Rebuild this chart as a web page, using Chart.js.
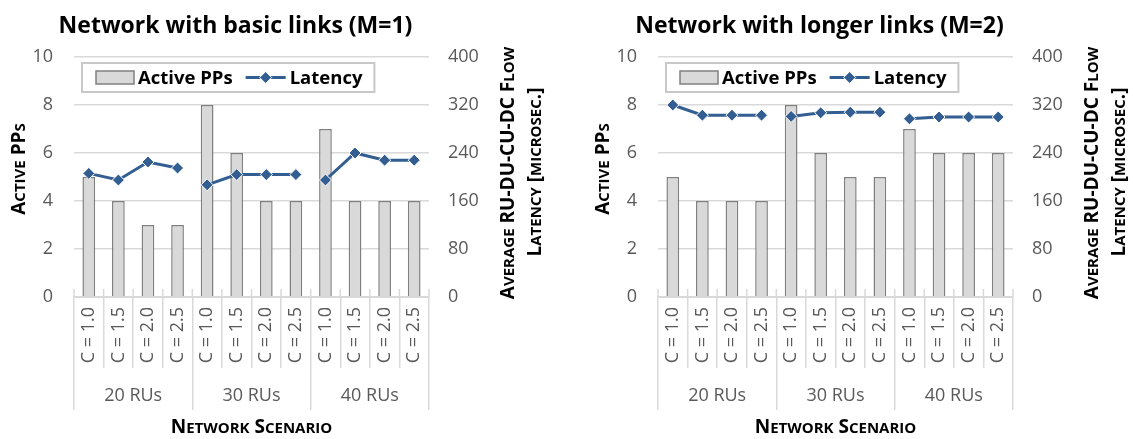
<!DOCTYPE html>
<html>
<head>
<meta charset="utf-8">
<script src="https://cdn.jsdelivr.net/npm/chart.js@4.4.1/dist/chart.umd.min.js"></script>
<style>
  html, body { margin: 0; padding: 0; background: #ffffff; }
  #wrap { position: relative; width: 1133px; height: 439px; overflow: hidden; }
  .panel { position: absolute; top: 0; height: 439px; }
  #p1 { left: 0; width: 584px; }
  #p2 { left: 584px; width: 549px; }
  canvas { display: block; }
</style>
</head>
<body>
<div id="wrap">
  <div class="panel" id="p1"><canvas id="c1" width="584" height="439"></canvas></div>
  <div class="panel" id="p2"><canvas id="c2" width="549" height="439"></canvas></div>
</div>
<script>
// Scenario categories: RU count groups and C values inside each group
const ruGroups = ['20 RUs', '30 RUs', '40 RUs'];
const cValues = ['C = 1.0', 'C = 1.5', 'C = 2.0', 'C = 2.5'];

// Basic links (M=1)
const activeM1 = [5, 4, 3, 3, 8, 6, 4, 4, 7, 4, 4, 4];
const latencyM1 = [206, 195, 225, 215, 187, 204, 204, 204, 195, 240, 228, 228];

// Longer links (M=2)
const activeM2 = [5, 4, 4, 4, 8, 6, 5, 5, 7, 6, 6, 6];
const latencyM2 = [320, 303, 303, 303, 301, 307, 308, 308, 297, 300, 300, 300];

// Labelled tick values on the two value axes
const ppTicks = [0, 2, 4, 6, 8, 10];
const latencyTicks = [0, 80, 160, 240, 320, 400];

const titles = ['Network with basic links (M=1)', 'Network with longer links (M=2)'];
const leftAxisTitle = 'Active PPs';
const rightAxisTitle = ['Average RU-DU-CU-DC Flow', 'Latency [microsec.]'];
const xAxisTitle = 'Network Scenario';

const FONT = '"Open Sans", "Noto Sans", sans-serif';
const GRID = '#d9d9d9';
const TEXT_GRAY = '#595959';
const BAR_FILL = '#d9d9d9';
const BAR_EDGE = '#808080';
const BLUE = '#335e92';

Chart.defaults.font.family = FONT;

// Category labels: every C value repeated for each RU group
const categories = ruGroups.flatMap(() => cValues);
const groupSize = cValues.length;

// Draws text with capitals at full size and lowercase letters as smaller capitals,
// centred on (x, y) and rotated by angle.
function drawSmallCaps(ctx, text, x, y, size, angle, color) {
  const small = Math.round(size * 0.8);
  const runs = [];
  for (const ch of text) {
    const isLower = ch !== ch.toUpperCase();
    const s = isLower ? small : size;
    const c = isLower ? ch.toUpperCase() : ch;
    const last = runs[runs.length - 1];
    if (last && last.size === s) last.text += c; else runs.push({ text: c, size: s });
  }
  let total = 0;
  for (const r of runs) {
    ctx.font = 'bold ' + r.size + 'px ' + FONT;
    r.w = ctx.measureText(r.text).width;
    total += r.w;
  }
  ctx.save();
  ctx.translate(x, y);
  ctx.rotate(angle);
  ctx.fillStyle = color;
  ctx.textBaseline = 'alphabetic';
  ctx.textAlign = 'left';
  let cx = -total / 2;
  const base = size * 0.714 / 2;
  for (const r of runs) {
    ctx.font = 'bold ' + r.size + 'px ' + FONT;
    ctx.fillText(r.text, cx, base);
    cx += r.w;
  }
  ctx.restore();
}

function drawDiamond(ctx, x, y, r, fill) {
  ctx.beginPath();
  ctx.moveTo(x, y - r);
  ctx.lineTo(x + r, y);
  ctx.lineTo(x, y + r);
  ctx.lineTo(x - r, y);
  ctx.closePath();
  ctx.fillStyle = fill;
  ctx.fill();
  ctx.lineWidth = 1;
  ctx.strokeStyle = '#ffffff';
  ctx.stroke();
}

// Chart furniture: title, framed legend, axis titles, short ticks above the category axis
const decorPlugin = {
  id: 'decor',
  afterDraw(chart, args, opts) {
    const ctx = chart.ctx;
    const ca = chart.chartArea;
    const xs = chart.scales.x;
    const midX = (ca.left + ca.right) / 2;
    const midY = (ca.top + ca.bottom) / 2;

    // chart title
    ctx.save();
    ctx.font = 'bold 23px ' + FONT;
    ctx.fillStyle = '#000000';
    ctx.textAlign = 'center';
    ctx.textBaseline = 'alphabetic';
    ctx.fillText(opts.title, midX - 16, 33);
    ctx.restore();

    // short marks above the axis at each category boundary
    const n = chart.data.labels.length;
    const step = (xs.right - xs.left) / n;
    ctx.save();
    ctx.strokeStyle = GRID;
    ctx.lineWidth = 1.5;
    for (let i = 0; i <= n; i++) {
      const px = xs.left + i * step;
      ctx.beginPath();
      ctx.moveTo(px, ca.bottom - 8);
      ctx.lineTo(px, ca.bottom);
      ctx.stroke();
    }
    ctx.restore();

    // legend in a white frame inside the plot area
    const bars = chart.data.datasets[0];
    const line = chart.data.datasets[1];
    ctx.save();
    ctx.font = 'bold 18.5px ' + FONT;
    const w1 = ctx.measureText(bars.label).width;
    const w2 = ctx.measureText(line.label).width;
    const pad = 14, sw = 38, gap = 4, sep = 13, lw = 40;
    const bx = ca.left + 8, by = 63, bh = 29;
    const bw = pad + sw + gap + w1 + sep + lw + gap + w2 + pad - 2;
    ctx.fillStyle = '#ffffff';
    ctx.fillRect(bx, by, bw, bh);
    ctx.strokeStyle = '#c8c8c8';
    ctx.lineWidth = 2;
    ctx.strokeRect(bx, by, bw, bh);
    const cy = by + bh / 2;
    let x = bx + pad;
    ctx.fillStyle = bars.backgroundColor;
    ctx.fillRect(x, cy - 6.5, sw, 13);
    ctx.strokeStyle = bars.borderColor;
    ctx.lineWidth = 1.5;
    ctx.strokeRect(x, cy - 6.5, sw, 13);
    x += sw + gap;
    ctx.fillStyle = '#000000';
    ctx.textBaseline = 'middle';
    ctx.textAlign = 'left';
    ctx.fillText(bars.label, x, cy + 1);
    x += w1 + sep;
    ctx.strokeStyle = line.borderColor;
    ctx.lineWidth = 3;
    ctx.beginPath();
    ctx.moveTo(x, cy);
    ctx.lineTo(x + lw, cy);
    ctx.stroke();
    drawDiamond(ctx, x + lw / 2, cy, 6, line.pointBackgroundColor);
    x += lw + gap;
    ctx.fillStyle = '#000000';
    ctx.fillText(line.label, x, cy + 1);
    ctx.restore();

    // axis titles
    drawSmallCaps(ctx, leftAxisTitle, ca.left - 56, midY - 8, 19, -Math.PI / 2, '#000000');
    drawSmallCaps(ctx, rightAxisTitle[0], ca.right + 78, midY - 4, 19, -Math.PI / 2, '#000000');
    drawSmallCaps(ctx, rightAxisTitle[1], ca.right + 105, midY - 5, 19, -Math.PI / 2, '#000000');
    drawSmallCaps(ctx, xAxisTitle, midX, chart.height - 13, 19, 0, '#000000');
  }
};

function makeChart(canvasId, title, active, latency) {
  const canvas = document.getElementById(canvasId);
  const W = canvas.width;
  return new Chart(canvas, {
    type: 'bar',
    data: {
      labels: categories,
      datasets: [
        {
          type: 'bar',
          label: 'Active PPs',
          data: active,
          xAxisID: 'x',
          yAxisID: 'y',
          backgroundColor: BAR_FILL,
          borderColor: BAR_EDGE,
          borderWidth: 1.5,
          barPercentage: 0.43,
          categoryPercentage: 1,
          order: 2
        },
        {
          type: 'line',
          label: 'Latency',
          data: latency,
          xAxisID: 'x',
          yAxisID: 'y1',
          borderColor: BLUE,
          borderWidth: 3,
          pointStyle: 'rectRot',
          pointRadius: 6,
          pointBackgroundColor: BLUE,
          pointBorderColor: '#ffffff',
          pointBorderWidth: 1,
          tension: 0,
          order: 1,
          segment: {
            // no connecting segment between RU groups
            borderColor: c => ((c.p0DataIndex + 1) % groupSize === 0) ? 'rgba(0,0,0,0)' : BLUE
          }
        }
      ]
    },
    options: {
      responsive: false,
      animation: false,
      devicePixelRatio: 1,
      layout: { padding: { top: 57, bottom: 29, left: 0, right: 0 } },
      plugins: {
        legend: { display: false },
        tooltip: { enabled: false },
        title: { display: false },
        decor: { title: title }
      },
      scales: {
        x: {
          type: 'category',
          position: 'bottom',
          offset: true,
          grid: { offset: true, drawOnChartArea: false, drawTicks: true, tickLength: 71, color: GRID, lineWidth: 1.5 },
          border: { display: true, color: GRID, width: 2 },
          ticks: { minRotation: 90, maxRotation: 90, autoSkip: false, padding: -61, color: TEXT_GRAY, font: { size: 18 } },
          afterFit: s => { s.height = 71; }
        },
        x2: {
          type: 'category',
          position: 'bottom',
          labels: ruGroups,
          offset: true,
          grid: { offset: true, drawOnChartArea: false, drawTicks: true, tickLength: 42, color: GRID, lineWidth: 1.5 },
          border: { display: false },
          ticks: { maxRotation: 0, autoSkip: false, padding: -25, color: TEXT_GRAY, font: { size: 18 } },
          afterFit: s => { s.height = 42; }
        },
        y: {
          position: 'left',
          min: 0,
          max: 10,
          grid: { color: GRID, lineWidth: 1.5, drawTicks: false },
          border: { display: false },
          ticks: {
            stepSize: 1,
            padding: 21,
            color: TEXT_GRAY,
            font: { size: 18 },
            callback: v => ppTicks.includes(v) ? String(v) : ''
          },
          afterFit: s => { s.width = 74; }
        },
        y1: {
          position: 'right',
          min: 0,
          max: 400,
          grid: { drawOnChartArea: false, drawTicks: false },
          border: { display: false },
          ticks: {
            stepSize: 80,
            padding: 19,
            color: TEXT_GRAY,
            font: { size: 18 },
            callback: v => latencyTicks.includes(v) ? String(v) : ''
          },
          afterFit: s => { s.width = W - 429; }
        }
      }
    },
    plugins: [decorPlugin]
  });
}

makeChart('c1', titles[0], activeM1, latencyM1);
makeChart('c2', titles[1], activeM2, latencyM2);
</script>
</body>
</html>
